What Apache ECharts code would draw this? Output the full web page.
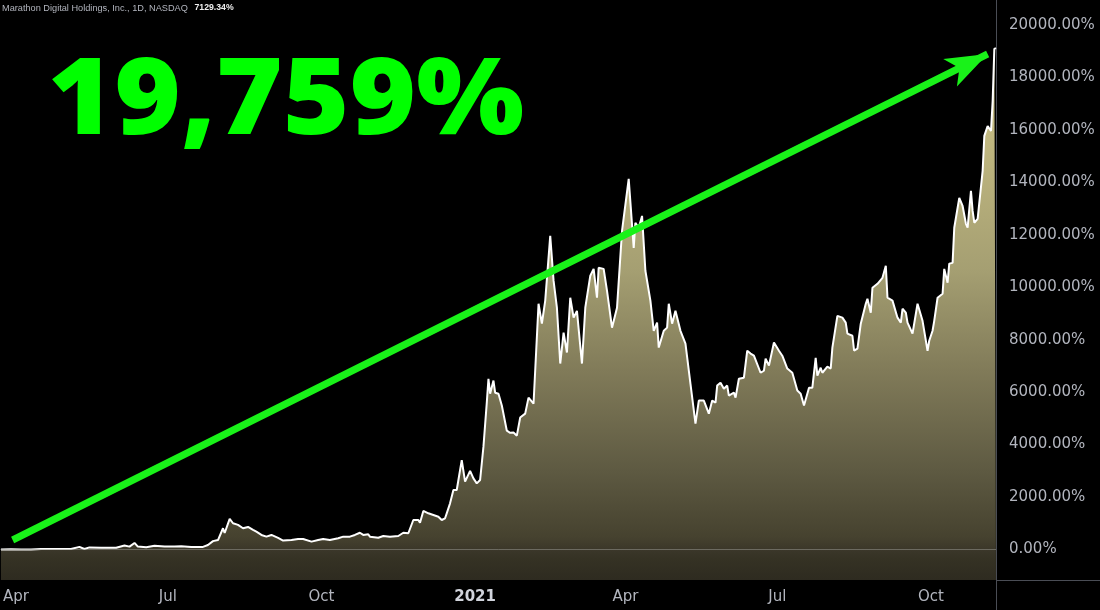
<!DOCTYPE html>
<html><head><meta charset="utf-8">
<script src="https://cdn.jsdelivr.net/npm/echarts@6/dist/echarts.min.js"></script>
<style>html,body{margin:0;padding:0;background:#000;}#c{width:1100px;height:610px;}</style>
</head><body><div id="c"></div>
<script>
// ---- data ----
const dates = [
'2020-03-23','2020-03-29','2020-04-04','2020-04-10','2020-04-16','2020-04-25','2020-05-04','2020-05-09','2020-05-12','2020-05-15',
'2020-05-22','2020-05-31','2020-06-05','2020-06-08','2020-06-11','2020-06-13','2020-06-18','2020-06-23','2020-06-29','2020-07-05',
'2020-07-09','2020-07-15','2020-07-22','2020-07-25','2020-07-28','2020-07-31','2020-08-03','2020-08-04','2020-08-07','2020-08-09',
'2020-08-12','2020-08-15','2020-08-18','2020-08-21','2020-08-23','2020-08-26','2020-08-29','2020-09-01','2020-09-02','2020-09-05',
'2020-09-08','2020-09-13','2020-09-17','2020-09-20','2020-09-25','2020-09-29','2020-10-02','2020-10-06','2020-10-11','2020-10-14',
'2020-10-18','2020-10-21','2020-10-24','2020-10-26','2020-10-29','2020-10-30','2020-11-04','2020-11-07','2020-11-11','2020-11-16',
'2020-11-19','2020-11-22','2020-11-25','2020-11-28','2020-11-29','2020-12-01','2020-12-04','2020-12-07','2020-12-10','2020-12-12',
'2020-12-14','2020-12-15','2020-12-17','2020-12-19','2020-12-21','2020-12-22','2020-12-24','2020-12-26','2020-12-27','2020-12-29',
'2020-12-31','2021-01-02','2021-01-04','2021-01-06','2021-01-08','2021-01-09','2021-01-10','2021-01-12','2021-01-13','2021-01-15',
'2021-01-17','2021-01-20','2021-01-22','2021-01-24','2021-01-26','2021-01-28','2021-01-31','2021-02-02','2021-02-05','2021-02-08',
'2021-02-10','2021-02-12','2021-02-15','2021-02-17','2021-02-19','2021-02-21','2021-02-23','2021-02-25','2021-02-27','2021-03-01',
'2021-03-03','2021-03-06','2021-03-08','2021-03-11','2021-03-13','2021-03-15','2021-03-16','2021-03-19','2021-03-21','2021-03-24',
'2021-03-27','2021-03-30','2021-04-03','2021-04-06','2021-04-07','2021-04-09','2021-04-11','2021-04-13','2021-04-16','2021-04-18',
'2021-04-20','2021-04-21','2021-04-24','2021-04-26','2021-04-27','2021-04-29','2021-05-01','2021-05-04','2021-05-07','2021-05-10',
'2021-05-13','2021-05-15','2021-05-18','2021-05-21','2021-05-23','2021-05-25','2021-05-26','2021-05-28','2021-05-30','2021-06-01',
'2021-06-02','2021-06-05','2021-06-06','2021-06-08','2021-06-11','2021-06-13','2021-06-15','2021-06-17','2021-06-21','2021-06-23',
'2021-06-24','2021-06-26','2021-06-29','2021-07-02','2021-07-04','2021-07-07','2021-07-10','2021-07-13','2021-07-15','2021-07-17',
'2021-07-20','2021-07-22','2021-07-24','2021-07-25','2021-07-27','2021-07-28','2021-07-31','2021-08-02','2021-08-03','2021-08-06',
'2021-08-09','2021-08-11','2021-08-12','2021-08-15','2021-08-16','2021-08-18','2021-08-20','2021-08-23','2021-08-24','2021-08-26',
'2021-08-27','2021-08-30','2021-09-02','2021-09-04','2021-09-05','2021-09-08','2021-09-11','2021-09-13','2021-09-14','2021-09-16',
'2021-09-17','2021-09-20','2021-09-23','2021-09-26','2021-09-29','2021-09-30','2021-10-02','2021-10-03','2021-10-05','2021-10-08',
'2021-10-09','2021-10-11','2021-10-12','2021-10-14','2021-10-15','2021-10-18','2021-10-20','2021-10-22','2021-10-23','2021-10-25',
'2021-10-26','2021-10-27','2021-10-29','2021-11-01','2021-11-02','2021-11-04','2021-11-06','2021-11-07','2021-11-08','2021-11-09'
];
const values = [
0,10,0,0,15,20,20,100,20,80,
70,70,150,110,250,110,85,145,110,110,
120,100,100,170,320,360,810,630,1170,1000,
940,810,860,750,680,555,490,555,490,440,
340,360,400,400,300,360,400,360,430,490,
490,555,640,555,580,490,450,515,490,515,
640,620,1125,1125,1020,1470,1380,1315,1250,1125,
1190,1380,1760,2270,2270,2650,3410,2590,2650,3000,
2710,2520,2650,3920,5600,6510,5940,6440,5980,5940,
5490,4530,4450,4460,4340,5030,5180,5790,5560,9370,
8610,9490,11960,10250,9220,7090,8270,7510,9600,8840,
9100,7090,9220,10440,10700,9600,10740,10700,9870,8460,
9220,12150,14130,11500,12460,12270,12720,10630,9490,8340,
8650,7700,8340,8460,9370,8610,9100,8340,7850,6320,
4800,5680,5680,5180,5680,5600,6250,6360,6130,6250,
5870,5980,5790,6510,6550,7580,7470,7390,6740,6820,
7280,7010,7890,7580,7390,6900,6740,6060,5940,5490,
6170,6170,7310,6630,6930,6740,6970,6900,7700,8910,
8840,8650,8230,8150,7580,7660,8610,9370,9560,9030,
9980,10130,10360,10820,9600,9490,8840,8650,9180,9030,
8650,8230,9370,8720,7580,7960,8340,8720,9600,9750,
10700,10170,10900,10930,12270,13410,13100,12420,12270,13680,
12910,12460,12610,14440,15770,16150,15960,17100,19090,19120
];
const yTickValues = [0,2000,4000,6000,8000,10000,12000,14000,16000,18000,20000];
const xTickDates = ['2020-04-01','2020-07-01','2020-10-01','2021-01-01','2021-04-01','2021-07-01','2021-10-01'];
const monthNames = ['Jan','Feb','Mar','Apr','May','Jun','Jul','Aug','Sep','Oct','Nov','Dec'];
const xRange = ['2020-03-23','2021-11-09'];
const yRange = [-1163, 20953];
const arrowStart = ['2020-03-30', 362];
const arrowEnd = ['2021-11-04', 18894];
const headline = '19,759%';
const tickerText = 'Marathon Digital Holdings, Inc., 1D, NASDAQ';
const lastValueText = '7129.34%';

function parseDay(s){ const p = s.split('-').map(Number); return new Date(p[0], p[1]-1, p[2]).getTime(); }

const chart = echarts.init(document.getElementById('c'), null, {renderer:'canvas'});
const paneLine = '#4a4d55';
const labelGray = '#b2b5be';
const arrowGreen = '#19f219';

chart.setOption({
  backgroundColor: '#000000',
  animation: false,
  grid: {left: 0, right: 104, top: 0, bottom: 30, containLabel: false},
  xAxis: {
    type: 'value',
    min: parseDay(xRange[0]), max: parseDay(xRange[1]),
    axisLine: {show: true, lineStyle: {color: paneLine, width: 1}},
    axisTick: {show: false},
    splitLine: {show: false},
    axisLabel: {
      customValues: xTickDates.map(parseDay),
      color: labelGray, fontSize: 15, fontFamily: 'DejaVu Sans', margin: 10,
      hideOverlap: false,
      formatter: function (v) {
        const d = new Date(v);
        const m = d.getMonth();
        return m === 0 ? '{yr|' + d.getFullYear() + '}' : monthNames[m];
      },
      rich: {yr: {fontWeight: 'bold', color: '#d1d4dc', fontSize: 15, fontFamily: 'DejaVu Sans'}}
    }
  },
  yAxis: {
    type: 'value', position: 'right',
    min: yRange[0], max: yRange[1],
    axisLine: {show: true, lineStyle: {color: paneLine, width: 1}},
    axisTick: {show: false},
    splitLine: {show: false},
    axisLabel: {
      customValues: yTickValues,
      color: labelGray, fontSize: 15, fontFamily: 'DejaVu Sans', margin: 13,
      formatter: function (v) { return v.toFixed(2) + '%'; }
    }
  },
  series: [{
    type: 'line',
    data: dates.map(function (d, i) { return [parseDay(d), values[i]]; }),
    showSymbol: false,
    symbol: 'none',
    lineStyle: {color: '#ffffff', width: 2},
    itemStyle: {color: '#ffffff'},
    areaStyle: {
      origin: 'start',
      opacity: 1,
      color: new echarts.graphic.LinearGradient(0, 0, 0, 1, [
        {offset: 0, color: '#cec58b'},
        {offset: 0.15, color: '#c2b981'},
        {offset: 0.417, color: '#a59f72'},
        {offset: 0.605, color: '#817b59'},
        {offset: 0.793, color: '#5e5a42'},
        {offset: 0.919, color: '#46422f'},
        {offset: 0.945, color: '#3a3629'},
        {offset: 0.96, color: '#353224'},
        {offset: 1, color: '#2e2b20'}
      ])
    },
    markLine: {
      silent: true,
      animation: false,
      symbol: ['none', 'none'],
      label: {show: false},
      lineStyle: {type: 'solid'},
      emphasis: {disabled: true},
      data: [
        {yAxis: 0, symbol: 'none', lineStyle: {color: 'rgba(150,150,140,0.55)', width: 1, type: 'solid'}},
        [
          {coord: [parseDay(arrowStart[0]), arrowStart[1]], symbol: 'none', lineStyle: {color: arrowGreen, width: 7, type: 'solid', cap: 'butt'}, itemStyle: {color: arrowGreen}},
          {coord: [parseDay(arrowEnd[0]), arrowEnd[1]], symbol: 'arrow', symbolSize: [23, 42], itemStyle: {color: arrowGreen}}
        ]
      ]
    }
  }],
  graphic: [
    {type: 'text', x: 47.5, y: 104, z: 10, scaleX: 1.074,
     style: {text: headline, fill: '#00ff00', font: '800 106px "Open Sans"', verticalAlign: 'middle', textAlign: 'left'}},
    {type: 'text', x: 2, y: 8, z: 10,
     style: {text: '{a|' + tickerText + '}  {b|' + lastValueText + '}', verticalAlign: 'middle', textAlign: 'left',
       rich: {a: {fill: labelGray, fontSize: 9.2, fontFamily: 'Liberation Sans'},
              b: {fill: '#f0f0f0', fontSize: 8.7, fontFamily: 'Liberation Sans', fontWeight: 'bold'}}}},
    {type: 'line', z: 10, shape: {x1: 996.5, y1: 580, x2: 996.5, y2: 610}, style: {stroke: paneLine, lineWidth: 1}},
    {type: 'line', z: 10, shape: {x1: 996, y1: 580.5, x2: 1100, y2: 580.5}, style: {stroke: paneLine, lineWidth: 1}}
  ]
});
</script>
</body></html>
